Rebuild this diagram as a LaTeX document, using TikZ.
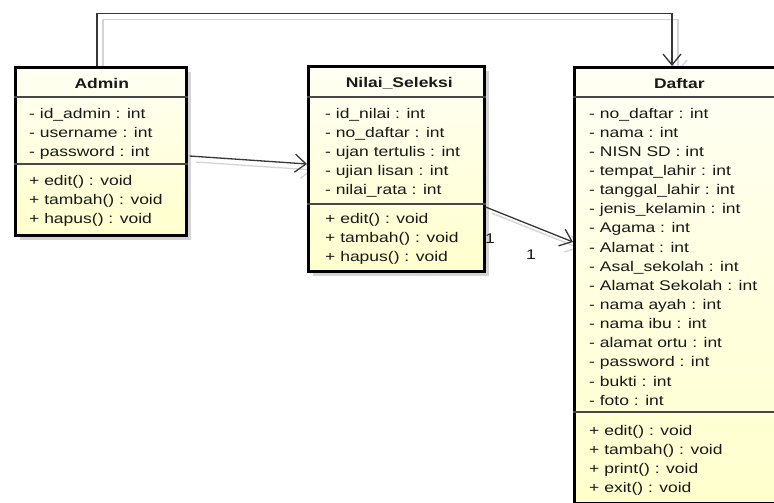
\documentclass[tikz,border=0pt]{standalone}
\usepackage{fontspec}
\setmainfont{Liberation Sans}[FakeStretch=1.25]
\usetikzlibrary{arrows.meta,calc}

\definecolor{boxtop}{RGB}{255,255,244}
\definecolor{boxbot}{RGB}{255,255,205}
\definecolor{wire}{RGB}{55,55,55}
\definecolor{ghost}{RGB}{212,212,212}
\definecolor{inkgray}{RGB}{25,25,25}

\tikzset{
  umlclass/.style={draw=black, line width=2.6pt, top color=boxtop, bottom color=boxbot,
    anchor=north west, inner sep=0pt},
  umlshadow/.style={fill=ghost, draw=none, anchor=north west, inner sep=0pt},
  classtitle/.style={font=\fontsize{14}{16}\selectfont\bfseries, text=inkgray, inner sep=0pt},
  member/.style={font=\fontsize{14}{16}\selectfont, text=inkgray, anchor=base west, inner sep=0pt},
  divider/.style={draw=black!72, line width=1.4pt},
  barb/.tip={Straight Barb[length=11pt,width=18pt,line width=1.3pt]},
  assoc/.style={draw=wire, line width=1.3pt, -barb},
  assocghost/.style={draw=ghost, line width=1.3pt, -barb},
  mult/.style={font=\fontsize{14}{16}\selectfont, text=inkgray, inner sep=0pt}
}

\begin{document}
\begin{tikzpicture}[x=1pt,y=-1pt]
  \useasboundingbox (0,0) rectangle (774,503);
  \clip (0,0) rectangle (774,503);
  \fill[white] (0,0) rectangle (774,503);

  % routing guides for the top association
  \coordinate (xa) at (97,0);
  \coordinate (xd) at (672,0);
  \coordinate (route) at (0,13.5);

  % drop shadows of the class boxes
  \node[umlshadow, minimum width=171pt, minimum height=168pt] (admin-sh) at (20,72) {};
  \node[umlshadow, minimum width=176pt, minimum height=205pt] (nilai-sh) at (313,71) {};
  \node[umlshadow, minimum width=210pt, minimum height=436pt] (daftar-sh) at (579,72) {};

  % class boxes (placed first so the connectors can refer to them)
  \node[umlclass, minimum width=171pt, minimum height=168pt] (admin) at (14,66) {};
  \node[umlclass, minimum width=176pt, minimum height=205pt] (nilai) at (307,65) {};
  \node[umlclass, minimum width=210pt, minimum height=436pt] (daftar) at (573,66) {};

  % connector shadows, offset down and to the right
  \begin{scope}[transform canvas={shift={(6,6)}}]
    \draw[assocghost] (admin.north -| xa) |- (route -| xd) -- (daftar.north -| xd);
    \draw[assocghost] ($(admin.north east)+(2,90)$) -- ($(nilai.north west)+(0,99)$);
    \draw[assocghost] ($(nilai.north east)+(0,142)$) -- ($(daftar.north west)+(0,176)$);
  \end{scope}
  % boxes again, over the shadows of the connectors
  \node[umlclass, minimum width=171pt, minimum height=168pt] (admin-top) at (14,66) {};
  \node[umlclass, minimum width=176pt, minimum height=205pt] (nilai-top) at (307,65) {};
  \node[umlclass, minimum width=210pt, minimum height=436pt] (daftar-top) at (573,66) {};

  % compartments
  \draw[divider] ($(admin.north west)+(0,31)$) -- ($(admin.north east)+(0,31)$);
  \draw[divider] ($(admin.north west)+(0,98)$) -- ($(admin.north east)+(0,98)$);
  \draw[divider] ($(nilai.north west)+(0,32)$) -- ($(nilai.north east)+(0,32)$);
  \draw[divider] ($(nilai.north west)+(0,139)$) -- ($(nilai.north east)+(0,139)$);
  \draw[divider] ($(daftar.north west)+(0,31)$) -- ($(daftar.north east)+(0,31)$);
  \draw[divider] ($(daftar.north west)+(0,346)$) -- ($(daftar.north east)+(0,346)$);

  % titles
  \node[classtitle] (admin-name) at ($(admin.north)+(1,17)$) {Admin};
  \node[classtitle] (nilai-name) at ($(nilai.north)+(3,18)$) {Nilai\_Seleksi};
  \node[classtitle] (daftar-name) at ($(daftar.north)+(0,17)$) {Daftar};

  % Admin members
  \foreach \t [count=\i from 0] in {- id\_admin : int, - username : int, - password : int}
    \node[member] (admin-attr-\i) at ($(admin.north west)+(15,52+19*\i)$) {\t};
  \foreach \t [count=\i from 0] in {+ edit() : void, + tambah() : void, + hapus() : void}
    \node[member] (admin-op-\i) at ($(admin.north west)+(15,119+19*\i)$) {\t};

  % Nilai_Seleksi members
  \foreach \t [count=\i from 0] in {- id\_nilai : int, - no\_daftar : int, - ujan tertulis : int,
      - ujian lisan : int, - nilai\_rata : int}
    \node[member] (nilai-attr-\i) at ($(nilai.north west)+(18,53+19.2*\i)$) {\t};
  \foreach \t [count=\i from 0] in {+ edit() : void, + tambah() : void, + hapus() : void}
    \node[member] (nilai-op-\i) at ($(nilai.north west)+(18,158+19.2*\i)$) {\t};

  % Daftar members
  \foreach \t [count=\i from 0] in {- no\_daftar : int, - nama : int, - NISN SD : int,
      - tempat\_lahir : int, - tanggal\_lahir : int, - jenis\_kelamin : int, - Agama : int,
      - Alamat : int, - Asal\_sekolah : int, - Alamat Sekolah : int, - nama ayah : int,
      - nama ibu : int, - alamat ortu : int, - password : int, - bukti : int, - foto : int}
    \node[member] (daftar-attr-\i) at ($(daftar.north west)+(16,52+19.15*\i)$) {\t};
  \foreach \t [count=\i from 0] in {+ edit() : void, + tambah() : void, + print() : void, + exit() : void}
    \node[member] (daftar-op-\i) at ($(daftar.north west)+(16,369+19*\i)$) {\t};

  % associations
  \draw[assoc] (admin.north -| xa) |- (route -| xd) -- (daftar.north -| xd);
  \draw[assoc] ($(admin.north east)+(2,90)$) -- ($(nilai.north west)+(0,99)$);
  \draw[assoc] ($(nilai.north east)+(0,142)$) -- ($(daftar.north west)+(0,176)$);

  % multiplicities
  \node[mult] (mult-nilai) at (490,239) {1};
  \node[mult] (mult-daftar) at (531,255) {1};
\end{tikzpicture}
\end{document}
